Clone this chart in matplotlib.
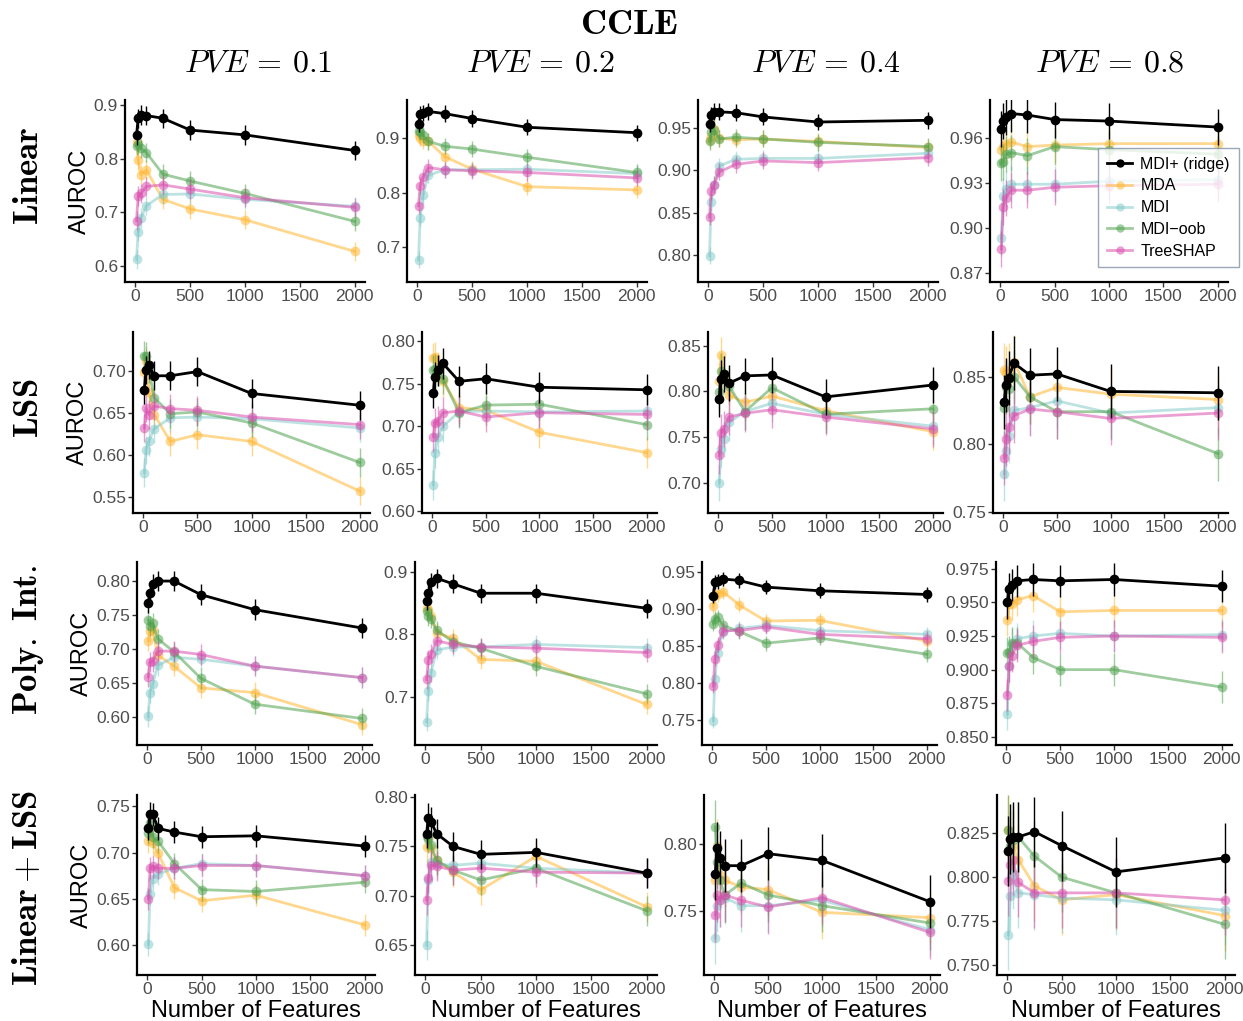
import matplotlib
matplotlib.use("Agg")
import matplotlib.pyplot as plt
from matplotlib.ticker import MultipleLocator, FormatStrFormatter
from matplotlib.lines import Line2D

plt.rcParams['font.family'] = ['Liberation Sans', 'DejaVu Sans']
plt.rcParams['mathtext.fontset'] = 'cm'

# ---------------- data ----------------
n_features = [10, 25, 50, 100, 250, 500, 1000, 2000]
methods = ["MDI+ (ridge)", "MDA", "MDI", "MDI\u2212oob", "TreeSHAP"]
pve_labels = ["0.1", "0.2", "0.4", "0.8"]
model_labels = [r"$\mathbf{Linear}$", r"$\mathbf{LSS}$", r"$\mathbf{Poly.\ Int.}$",
                r"$\mathbf{Linear} + \mathbf{LSS}$"]

# each panel: rows = MDI+ (ridge), MDA, MDI, MDI-oob, TreeSHAP
linear_01 = [[0.843, 0.875, 0.881, 0.880, 0.875, 0.853, 0.844, 0.815],
             [0.830, 0.797, 0.770, 0.779, 0.724, 0.706, 0.686, 0.627],
             [0.612, 0.664, 0.689, 0.712, 0.733, 0.734, 0.724, 0.711],
             [0.824, 0.827, 0.819, 0.811, 0.771, 0.758, 0.735, 0.683],
             [0.684, 0.730, 0.735, 0.748, 0.751, 0.743, 0.727, 0.709]]
linear_02 = [[0.926, 0.944, 0.946, 0.949, 0.945, 0.936, 0.920, 0.910],
             [0.906, 0.900, 0.895, 0.894, 0.866, 0.843, 0.811, 0.805],
             [0.677, 0.754, 0.795, 0.832, 0.842, 0.842, 0.843, 0.835],
             [0.914, 0.912, 0.906, 0.894, 0.885, 0.880, 0.865, 0.837],
             [0.776, 0.813, 0.828, 0.846, 0.842, 0.840, 0.837, 0.827]]
linear_04 = [[0.955, 0.965, 0.969, 0.969, 0.968, 0.963, 0.957, 0.959],
             [0.936, 0.940, 0.949, 0.938, 0.936, 0.937, 0.934, 0.927],
             [0.799, 0.862, 0.883, 0.905, 0.913, 0.914, 0.914, 0.920],
             [0.934, 0.945, 0.948, 0.937, 0.939, 0.937, 0.933, 0.928],
             [0.845, 0.875, 0.883, 0.898, 0.907, 0.911, 0.909, 0.915]]
linear_08 = [[0.966, 0.971, 0.974, 0.976, 0.975, 0.972, 0.971, 0.967],
             [0.952, 0.954, 0.956, 0.957, 0.954, 0.955, 0.956, 0.956],
             [0.893, 0.921, 0.926, 0.929, 0.929, 0.929, 0.931, 0.932],
             [0.943, 0.944, 0.949, 0.950, 0.948, 0.954, 0.952, 0.949],
             [0.886, 0.914, 0.920, 0.925, 0.925, 0.927, 0.928, 0.929]]
lss_01 = [[0.677, 0.701, 0.707, 0.694, 0.694, 0.699, 0.673, 0.659],
          [0.698, 0.711, 0.675, 0.648, 0.616, 0.624, 0.616, 0.557],
          [0.579, 0.606, 0.616, 0.631, 0.644, 0.645, 0.643, 0.632],
          [0.718, 0.717, 0.703, 0.668, 0.649, 0.651, 0.638, 0.591],
          [0.632, 0.656, 0.648, 0.658, 0.655, 0.653, 0.645, 0.636]]
lss_02 = [[0.739, 0.758, 0.766, 0.774, 0.753, 0.756, 0.746, 0.743],
          [0.780, 0.781, 0.769, 0.753, 0.722, 0.719, 0.693, 0.669],
          [0.631, 0.669, 0.687, 0.700, 0.717, 0.718, 0.717, 0.718],
          [0.766, 0.767, 0.765, 0.756, 0.716, 0.725, 0.726, 0.702],
          [0.688, 0.704, 0.706, 0.716, 0.718, 0.711, 0.716, 0.714]]
lss_04 = [[0.792, 0.814, 0.819, 0.809, 0.817, 0.818, 0.794, 0.807],
          [0.811, 0.840, 0.817, 0.796, 0.788, 0.795, 0.779, 0.756],
          [0.700, 0.737, 0.748, 0.766, 0.778, 0.787, 0.775, 0.762],
          [0.799, 0.822, 0.819, 0.806, 0.778, 0.804, 0.775, 0.781],
          [0.730, 0.755, 0.759, 0.772, 0.776, 0.780, 0.772, 0.759]]
lss_08 = [[0.831, 0.844, 0.849, 0.860, 0.851, 0.852, 0.839, 0.838],
          [0.855, 0.853, 0.855, 0.861, 0.835, 0.842, 0.837, 0.833],
          [0.778, 0.795, 0.806, 0.825, 0.827, 0.832, 0.823, 0.827],
          [0.827, 0.842, 0.841, 0.850, 0.835, 0.824, 0.824, 0.793],
          [0.790, 0.804, 0.813, 0.821, 0.826, 0.824, 0.819, 0.823]]
poly_01 = [[0.768, 0.782, 0.795, 0.800, 0.800, 0.780, 0.758, 0.731],
           [0.712, 0.726, 0.728, 0.691, 0.675, 0.643, 0.636, 0.589],
           [0.601, 0.636, 0.649, 0.676, 0.688, 0.685, 0.675, 0.658],
           [0.743, 0.734, 0.738, 0.715, 0.696, 0.657, 0.619, 0.598],
           [0.659, 0.681, 0.682, 0.697, 0.697, 0.692, 0.675, 0.658]]
poly_02 = [[0.854, 0.866, 0.884, 0.890, 0.881, 0.866, 0.866, 0.842],
           [0.842, 0.839, 0.830, 0.803, 0.794, 0.760, 0.757, 0.688],
           [0.660, 0.709, 0.739, 0.775, 0.780, 0.780, 0.784, 0.779],
           [0.838, 0.829, 0.825, 0.807, 0.788, 0.778, 0.749, 0.705],
           [0.728, 0.759, 0.769, 0.790, 0.784, 0.780, 0.778, 0.771]]
poly_04 = [[0.918, 0.937, 0.938, 0.941, 0.939, 0.930, 0.925, 0.920],
           [0.904, 0.919, 0.920, 0.924, 0.906, 0.884, 0.885, 0.857],
           [0.749, 0.806, 0.841, 0.869, 0.874, 0.878, 0.871, 0.866],
           [0.880, 0.887, 0.889, 0.878, 0.870, 0.854, 0.861, 0.839],
           [0.796, 0.833, 0.852, 0.871, 0.871, 0.876, 0.866, 0.860]]
poly_08 = [[0.950, 0.960, 0.963, 0.966, 0.967, 0.966, 0.967, 0.962],
           [0.937, 0.949, 0.949, 0.952, 0.955, 0.943, 0.944, 0.944],
           [0.867, 0.903, 0.919, 0.923, 0.925, 0.927, 0.925, 0.926],
           [0.912, 0.913, 0.920, 0.920, 0.909, 0.900, 0.900, 0.887],
           [0.881, 0.903, 0.910, 0.918, 0.921, 0.924, 0.925, 0.924]]
linlss_01 = [[0.726, 0.742, 0.741, 0.726, 0.722, 0.717, 0.718, 0.707],
             [0.712, 0.726, 0.710, 0.699, 0.662, 0.648, 0.654, 0.622],
             [0.601, 0.655, 0.672, 0.677, 0.683, 0.688, 0.686, 0.675],
             [0.721, 0.732, 0.717, 0.712, 0.688, 0.660, 0.658, 0.668],
             [0.650, 0.683, 0.685, 0.683, 0.683, 0.686, 0.686, 0.675]]
linlss_02 = [[0.763, 0.779, 0.775, 0.763, 0.750, 0.742, 0.744, 0.723],
             [0.749, 0.760, 0.748, 0.736, 0.724, 0.706, 0.740, 0.689],
             [0.650, 0.716, 0.734, 0.732, 0.731, 0.733, 0.728, 0.723],
             [0.761, 0.758, 0.751, 0.736, 0.726, 0.716, 0.728, 0.685],
             [0.696, 0.718, 0.731, 0.730, 0.726, 0.728, 0.724, 0.723]]
linlss_04 = [[0.778, 0.797, 0.790, 0.784, 0.784, 0.793, 0.788, 0.757],
             [0.773, 0.799, 0.777, 0.773, 0.768, 0.766, 0.749, 0.745],
             [0.730, 0.754, 0.758, 0.760, 0.754, 0.754, 0.758, 0.736],
             [0.813, 0.787, 0.773, 0.762, 0.771, 0.762, 0.754, 0.741],
             [0.747, 0.762, 0.758, 0.762, 0.758, 0.753, 0.760, 0.734]]
linlss_08 = [[0.815, 0.822, 0.823, 0.823, 0.826, 0.818, 0.803, 0.811],
             [0.827, 0.822, 0.818, 0.810, 0.795, 0.787, 0.790, 0.778],
             [0.767, 0.789, 0.802, 0.791, 0.790, 0.788, 0.787, 0.781],
             [0.827, 0.818, 0.821, 0.823, 0.812, 0.800, 0.791, 0.773],
             [0.798, 0.807, 0.810, 0.797, 0.791, 0.791, 0.791, 0.787]]

# error bar half-widths per panel (rows x cols)
err_linear = [0.018, 0.015, 0.010, 0.012]
err_lss = [0.017, 0.018, 0.020, 0.020]
err_poly = [0.015, 0.015, 0.010, 0.012]
err_linlss = [0.012, 0.015, 0.020, 0.020]

panels = [[linear_01, linear_02, linear_04, linear_08],
          [lss_01, lss_02, lss_04, lss_08],
          [poly_01, poly_02, poly_04, poly_08],
          [linlss_01, linlss_02, linlss_04, linlss_08]]
errs = [err_linear, err_lss, err_poly, err_linlss]

# ---------------- styling / layout ----------------
W, H = 1243, 1021
colors = ["#000000", "#FFB733", "#7CC6C6", "#4FA24F", "#D94FAE"]
alphas = [1.0, 0.55, 0.5, 0.55, 0.55]

row_tb = [(100, 282), (332, 513), (562, 745), (795, 975)]
lefts = [[125, 407, 698, 990], [133, 422, 708, 993],
         [137, 415, 702, 996], [137, 415, 704, 997]]
rights = [[365, 647, 938, 1228], [370, 657, 943, 1228],
          [372, 657, 937, 1232], [375, 657, 940, 1235]]
ylims = [[(0.570, 0.909), (0.636, 0.970), (0.768, 0.983), (0.864, 0.985)],
         [(0.531, 0.746), (0.598, 0.811), (0.667, 0.865), (0.749, 0.883)],
         [(0.559, 0.828), (0.623, 0.916), (0.716, 0.964), (0.844, 0.980)],
         [(0.568, 0.762), (0.620, 0.802), (0.702, 0.837), (0.744, 0.847)]]
ysteps = [[0.1, 0.1, 0.05, 0.03], [0.05, 0.05, 0.05, 0.05],
          [0.05, 0.1, 0.05, 0.025], [0.05, 0.05, 0.05, 0.025]]
ydec = [[1, 1, 2, 2], [2, 2, 2, 2], [2, 1, 2, 3], [2, 2, 2, 3]]

fig = plt.figure(figsize=(W / 100, H / 100), dpi=100)

for r in range(4):
    t, b = row_tb[r]
    for c in range(4):
        l, rr = lefts[r][c], rights[r][c]
        ax = fig.add_axes([l / W, 1 - b / H, (rr - l) / W, (b - t) / H])
        data = panels[r][c]
        e = errs[r][c]
        order = [1, 2, 3, 4, 0]
        for k in order:
            z = 5 if k == 0 else 2 + k * 0.1
            ax.errorbar(n_features, data[k], yerr=e, fmt='-o', color=colors[k],
                        alpha=alphas[k], lw=2.0, ms=7, elinewidth=1.0,
                        capsize=0, zorder=z, mew=0)
        ax.set_xlim(-95, 2095)
        ax.set_xticks([0, 500, 1000, 1500, 2000])
        ax.yaxis.set_major_locator(MultipleLocator(ysteps[r][c]))
        ax.yaxis.set_major_formatter(FormatStrFormatter('%%.%df' % ydec[r][c]))
        ax.set_ylim(*ylims[r][c])
        for s in ['top', 'right']:
            ax.spines[s].set_visible(False)
        for s in ['left', 'bottom']:
            ax.spines[s].set_linewidth(1.6)
        ax.tick_params(axis='both', labelsize=12.5, colors='#4D4D4D', length=3.5,
                       width=1.0, pad=1.5)
        ax.tick_params(axis='both', color='#333333')
        if c == 0:
            ax.set_ylabel("AUROC", fontsize=17, labelpad=2)
        if r == 3:
            ax.set_xlabel("Number of Features", fontsize=17, labelpad=2)

# titles
fig.text(629 / W, 1 - 24 / H, r"$\mathbf{CCLE}$", ha='center', va='center', fontsize=26)
col_x = [258, 541, 826, 1110]
for c in range(4):
    fig.text(col_x[c] / W, 1 - 64 / H, r"$PVE\,=\,%s$" % pve_labels[c],
             ha='center', va='center', fontsize=23)
row_y = [176, 408, 640, 888]
for r in range(4):
    fig.text(28 / W, 1 - row_y[r] / H, model_labels[r], ha='center', va='center',
             rotation=90, fontsize=25)

# legend
handles = [Line2D([0], [0], color=colors[k], alpha=alphas[k], lw=2.0, marker='o',
                  ms=6, mew=0) for k in range(5)]
leg = fig.legend(handles, methods, loc='upper left',
                 bbox_to_anchor=(1098 / W, 1 - 148 / H), fontsize=11.5,
                 frameon=True, fancybox=False, edgecolor='#8291A8',
                 handlelength=1.6, handletextpad=0.5, labelspacing=0.42,
                 borderpad=0.55, borderaxespad=0)
leg.get_frame().set_linewidth(1.0)

fig.savefig("out.png", dpi=100)
